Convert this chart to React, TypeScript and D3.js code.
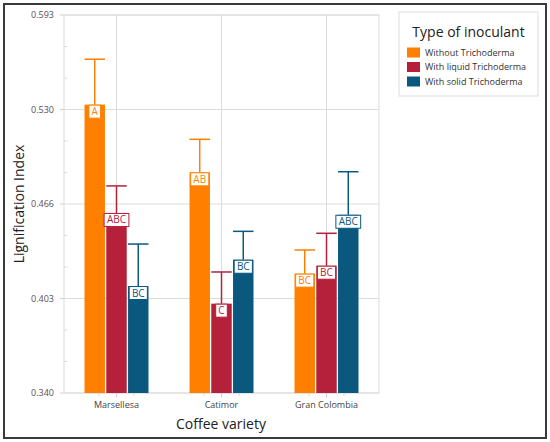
import React from "react";
import * as d3 from "d3";

const categories = ["Marsellesa", "Catimor", "Gran Colombia"];
const series = ["Without Trichoderma", "With liquid Trichoderma", "With solid Trichoderma"];
const colors = ["#FF8000", "#B5213B", "#0A587E"];
const withoutValues = [0.533, 0.4877, 0.4199];
const liquidValues = [0.4605, 0.3998, 0.4252];
const solidValues = [0.4116, 0.4292, 0.4593];
const withoutErr = [0.5634, 0.5098, 0.4357];
const liquidErr = [0.4786, 0.421, 0.4469];
const solidErr = [0.4397, 0.4482, 0.4881];
const withoutLetters = ["A", "AB", "BC"];
const liquidLetters = ["ABC", "C", "BC"];
const solidLetters = ["BC", "BC", "ABC"];
const yMin = 0.34;
const yMax = 0.593;
const yTickLabels = ["0.340", "0.403", "0.466", "0.530", "0.593"];

const values = [withoutValues, liquidValues, solidValues];
const errs = [withoutErr, liquidErr, solidErr];
const letters = [withoutLetters, liquidLetters, solidLetters];

const W = 550, H = 442;
const L = 64, R = 379, T = 15, B = 393;
const FONT = "'Open Sans', sans-serif";

export default function App() {
  const x = d3.scaleBand<string>().domain(categories).range([L, R]).padding(0);
  const y = d3.scaleLinear().domain([yMin, yMax]).range([B, T]);
  const yTicks = d3.range(yTickLabels.length).map((i) => yMin + (i * (yMax - yMin)) / (yTickLabels.length - 1));
  const minorY: number[] = [];
  for (let i = 0; i < yTicks.length - 1; i++) {
    for (let k = 1; k < 3; k++) minorY.push(yTicks[i] + (k * (yTicks[i + 1] - yTicks[i])) / 3);
  }
  const bw = x.bandwidth();
  const minorX: number[] = [];
  categories.forEach((c) => {
    const x0 = x(c)!;
    for (let k = 1; k < 3; k++) minorX.push(x0 + (k * bw) / 3);
  });

  return (
    <div style={{ position: "absolute", left: 0, top: 0 }}>
      <svg width={W} height={H} style={{ display: "block" }}>
        <rect x={0} y={0} width={W} height={H} fill="#fff" />
        <rect x={4} y={4} width={542} height={434} fill="none" stroke="#3a3a3a" strokeWidth={2} />
        {/* plot frame */}
        <rect x={L} y={T} width={R - L} height={B - T} fill="#fff" stroke="#dcdcdc" strokeWidth={1} />
        {yTicks.map((t, i) => (
          <line key={"gy" + i} x1={L} x2={R} y1={y(t)} y2={y(t)} stroke="#dcdcdc" strokeWidth={1} />
        ))}
        {categories.map((c) => (
          <line key={"gx" + c} x1={x(c)! + bw / 2} x2={x(c)! + bw / 2} y1={T} y2={B} stroke="#dcdcdc" strokeWidth={1} />
        ))}
        {minorY.map((t, i) => (
          <line key={"my" + i} x1={L} x2={L + 3} y1={y(t)} y2={y(t)} stroke="#d8d8d8" />
        ))}
        {minorX.map((v, i) => (
          <line key={"mx" + i} x1={v} x2={v} y1={B} y2={B + 3} stroke="#d8d8d8" />
        ))}
        {yTicks.map((t, i) => (
          <g key={"yt" + i}>
            <line x1={L - 4} x2={L} y1={y(t)} y2={y(t)} stroke="#cfcfcf" />
            <text x={L - 10} y={y(t) + 3} textAnchor="end" fontFamily={FONT} fontSize={9} fill="#5a4f5a">
              {yTickLabels[i]}
            </text>
          </g>
        ))}
        {categories.map((c) => (
          <g key={"xt" + c}>
            <line x1={x(c)! + bw / 2} x2={x(c)! + bw / 2} y1={B} y2={B + 4} stroke="#cfcfcf" />
            <text x={x(c)! + bw / 2} y={408} textAnchor="middle" fontFamily={FONT} fontSize={9} fill="#444">
              {c}
            </text>
          </g>
        ))}
        {/* bars */}
        {categories.map((c, ci) => {
          const center = x(c)! + bw / 2;
          const inner = d3.scaleBand<string>().domain(series).range([center - 32, center + 32]).paddingInner(0.06);
          return series.map((s, si) => {
            const v = values[si][ci];
            const bx = inner(s)!;
            const w = inner.bandwidth();
            const cx = bx + w / 2;
            const top = y(v);
            const eTop = y(errs[si][ci]);
            const lab = letters[si][ci];
            const lw = lab.length * 6.6 + 5;
            return (
              <g key={c + s}>
                <rect x={bx} y={top} width={w} height={B - top} fill={colors[si]} />
                <line x1={cx} x2={cx} y1={top} y2={eTop} stroke={colors[si]} strokeWidth={1.5} />
                <line x1={bx} x2={bx + w} y1={eTop} y2={eTop} stroke={colors[si]} strokeWidth={1.5} />
                <rect x={cx - lw / 2} y={top + 0.5} width={lw} height={13} fill="#fff" stroke={colors[si]} strokeWidth={1} />
                <text x={cx} y={top + 10.5} textAnchor="middle" fontFamily={FONT} fontSize={10} fill={colors[si]}>
                  {lab}
                </text>
              </g>
            );
          });
        })}
        {/* axis titles */}
        <text x={221} y={429} textAnchor="middle" fontFamily={FONT} fontSize={14} fill="#222">
          Coffee variety
        </text>
        <text
          transform={`translate(24, ${(T + B) / 2}) rotate(-90)`}
          textAnchor="middle"
          fontFamily={FONT}
          fontSize={14}
          fill="#222"
        >
          Lignification Index
        </text>
        {/* legend */}
        <rect x={399} y={12} width={139} height={84} fill="#fff" stroke="#dddddd" strokeWidth={1} />
        <text x={468.5} y={37} textAnchor="middle" fontFamily={FONT} fontSize={14} fill="#222">
          Type of inoculant
        </text>
        {series.map((s, i) => (
          <g key={"lg" + s}>
            <rect x={407} y={47.5 + i * 14.5} width={13} height={10} fill={colors[i]} />
            <text x={425} y={55.5 + i * 14.5} fontFamily={FONT} fontSize={9} fill="#333">
              {s}
            </text>
          </g>
        ))}
      </svg>
    </div>
  );
}
